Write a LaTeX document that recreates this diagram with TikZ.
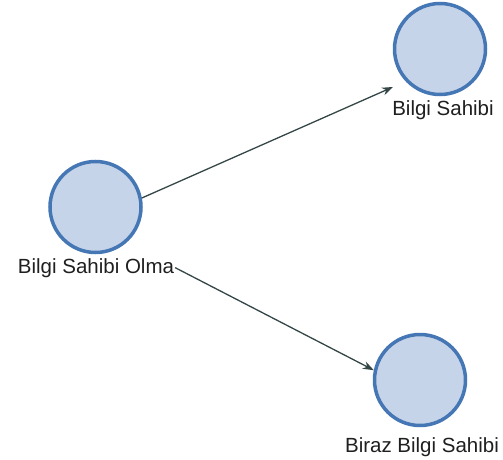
\documentclass[tikz,border=0pt]{standalone}
\usepackage{fontspec}
\setmainfont{Liberation Sans}
\usetikzlibrary{arrows.meta,calc}
\definecolor{nodefill}{HTML}{C6D4EA}
\definecolor{nodeedge}{HTML}{4677B5}
\definecolor{edgecol}{HTML}{344646}
\tikzset{
  state/.style={circle,draw=nodeedge,fill=nodefill,line width=3.5pt,minimum size=91pt,inner sep=0pt},
  lbl/.style={font=\fontsize{20.5pt}{22pt}\selectfont,inner sep=1pt,anchor=base,text=black!88},
  link/.style={draw=edgecol,line width=1.3pt,-{Stealth[length=11pt,width=8pt]}}
}
\begin{document}
\begin{tikzpicture}[x=1pt,y=-1pt]
\useasboundingbox (0,0) rectangle (503,460);
\node[state] (a) at (95.5,207) {};
\node[state] (b) at (440,49) {};
\node[state] (c) at (420,380) {};
\node[lbl] (la) at (96,273) {Bilgi Sahibi Olma};
\node[lbl] (lb) at (443,115) {Bilgi Sahibi};
\node[lbl] (lc) at (422,452) {Biraz Bilgi Sahibi};
\coordinate (bend) at ($(b)+(-47,38)$);
\draw[link] (a.11) -- (bend);
\draw[link] (la.east) -- (c.168);
\end{tikzpicture}
\end{document}
